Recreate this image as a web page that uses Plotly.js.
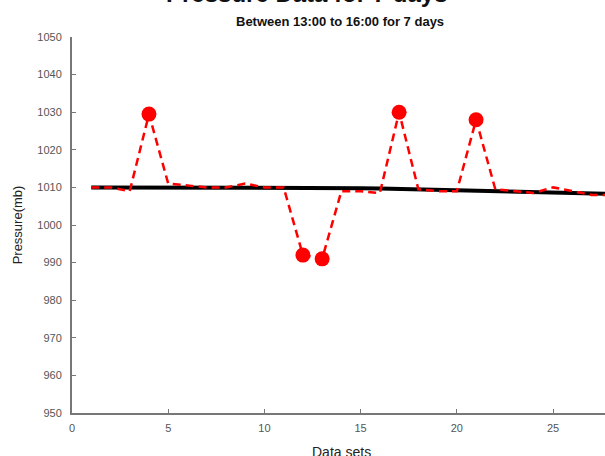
<!DOCTYPE html>
<html>
<head>
<meta charset="utf-8">
<script src="https://cdn.plot.ly/plotly-3.0.1.min.js"></script>
<style>html,body{margin:0;padding:0;background:#fff;}#chart{width:605px;height:456px;}</style>
</head>
<body>
<div id="chart"></div>
<script>
// Data
var dataSets = [1,2,3,4,5,6,7,8,9,10,11,12,13,14,15,16,17,18,19,20,21,22,23,24,25,26,27,28];
var pressure = [1010,1010,1009,1029.5,1011,1010.5,1010,1010,1011,1010,1010,992,991,1009,1009,1008.5,1030,1009.5,1009,1009,1028,1009.5,1009,1008.5,1010,1009,1008,1008];
var trend    = [1010,1010,1010,1010,1010,1010,1010,1010,1010,1010,1010,1010,1010,1009.9,1009.8,1009.7,1009.6,1009.5,1009.4,1009.3,1009.2,1009.1,1009,1008.9,1008.8,1008.6,1008.4,1008.3];
var peakX = [4,12,13,17,21];
var peakY = [1029.5,992,991,1030,1028];
var yTicks = [950,960,970,980,990,1000,1010,1020,1030,1040,1050];
var xTicks = [0,5,10,15,20,25];

var traces = [
  {x: dataSets, y: trend, mode: 'lines', line: {color: '#000000', width: 4}, hoverinfo: 'skip'},
  {x: dataSets, y: pressure, mode: 'lines', line: {color: '#ff0000', width: 2.5, dash: '8px,5px'}},
  {x: peakX, y: peakY, mode: 'markers', marker: {color: '#ff0000', size: 15}}
];

var axisFont = {family: 'Liberation Sans, Arial, sans-serif', size: 11, color: '#555555'};
var layout = {
  width: 605, height: 456,
  margin: {l: 72, r: 0, t: 37, b: 43, pad: 0},
  paper_bgcolor: '#ffffff', plot_bgcolor: '#ffffff',
  showlegend: false,
  xaxis: {
    range: [0, 27.7], tickvals: xTicks, ticktext: xTicks.map(String),
    showgrid: false, zeroline: false, showline: true, linecolor: '#777777', linewidth: 2,
    ticks: 'inside', ticklen: 4, tickcolor: '#777777', tickfont: axisFont, ticklabelstandoff: 4
  },
  yaxis: {
    range: [950, 1050], tickvals: yTicks, ticktext: yTicks.map(String),
    showgrid: false, zeroline: false, showline: true, linecolor: '#777777', linewidth: 2,
    ticks: 'inside', ticklen: 4, tickcolor: '#777777', tickfont: axisFont, ticklabelstandoff: 6,
    title: {text: 'Pressure(mb)', font: {family: 'Liberation Sans, Arial, sans-serif', size: 13, color: '#222222'}, standoff: 12}
  },
  annotations: [
    {text: 'Data sets', xref: 'paper', yref: 'paper', x: 0.505, y: -0.103, xanchor: 'center', yanchor: 'middle', showarrow: false,
     font: {family: 'Liberation Sans, Arial, sans-serif', size: 14, color: '#222222'}},
    {text: '<b>Between 13:00 to 16:00 for 7 days</b>', xref: 'paper', yref: 'paper', x: 0.503, y: 1.04, xanchor: 'center', yanchor: 'middle', showarrow: false,
     font: {family: 'Liberation Sans, Arial, sans-serif', size: 13, color: '#111111'}},
    {text: '<b>Pressure Data for 7 days</b>', xref: 'paper', yref: 'paper', x: 0.44, y: 1.075, xanchor: 'center', yanchor: 'bottom', showarrow: false,
     font: {family: 'Liberation Sans, Arial, sans-serif', size: 24, color: '#111111'}}
  ]
};
Plotly.newPlot('chart', traces, layout, {displayModeBar: false, staticPlot: true});
</script>
</body>
</html>
